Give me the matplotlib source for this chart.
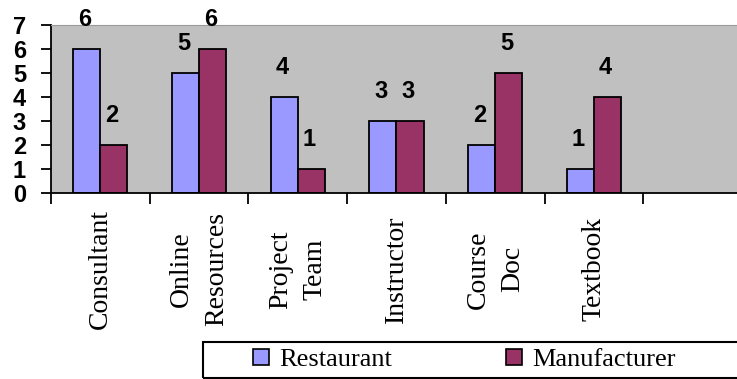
"""Restaurant vs manufacturer bar chart."""

import matplotlib

matplotlib.use("Agg")
import matplotlib.pyplot as plt
from matplotlib.patches import Patch, Rectangle
from matplotlib.ticker import FixedLocator
import numpy as np

categories = ["Consultant", "Online\nResources", "Project\nTeam", "Instructor", "Course\nDoc", "Textbook"]
restaurant = [6, 5, 4, 3, 2, 1]
manufacturer = [2, 6, 1, 3, 5, 4]
series_names = ["Restaurant", "Manufacturer"]
y_ticks = [0, 1, 2, 3, 4, 5, 6, 7]

BLUE = "#9999ff"
MAROON = "#993366"
GRAY = "#c0c0c0"
DIGIT_FONT = ["Liberation Sans Narrow", "Liberation Sans"]

fig = plt.figure(figsize=(7.37, 3.79), dpi=100)
ax = fig.add_axes([51 / 737, 186 / 379, 686 / 737, 168.5 / 379])
ax.set_facecolor(GRAY)

x = np.arange(len(categories))
width = 0.275
bars_r = ax.bar(x - width / 2, restaurant, width, color=BLUE, edgecolor="black", linewidth=1.3)
bars_m = ax.bar(x + width / 2, manufacturer, width, color=MAROON, edgecolor="black", linewidth=1.3)

for bars in (bars_r, bars_m):
    for bar in bars:
        ax.annotate(
            f"{bar.get_height():g}",
            (bar.get_x() + bar.get_width() / 2, bar.get_height()),
            xytext=(-2, 29),
            textcoords="offset pixels",
            ha="center",
            va="center",
            fontsize=17,
            fontweight="bold",
            family=DIGIT_FONT,
            annotation_clip=False,
        )

ax.set_ylim(0, 7)
ax.set_xlim(-0.5, 6.45)
ax.set_yticks(y_ticks)
ax.set_yticklabels([str(v) for v in y_ticks], fontsize=17, fontweight="bold", family=DIGIT_FONT)
ax.tick_params(axis="y", length=7, width=1.3, pad=11)

ax.set_xticks(x)
ax.set_xticklabels(categories, rotation=90, va="center", ha="center", fontsize=20,
                   family="Liberation Serif", multialignment="center", linespacing=1.5)
ax.tick_params(axis="x", which="major", length=0, pad=55)
ax.xaxis.set_minor_locator(FixedLocator(np.arange(-0.5, 7, 1.0)))
ax.tick_params(axis="x", which="minor", length=8, width=1.3)

ax.spines["right"].set_visible(False)
ax.spines["top"].set_color("#9a9a9a")
ax.spines["left"].set_linewidth(1.3)
ax.spines["bottom"].set_linewidth(1.3)

# legend box runs off the right edge like the source
fig.patches.append(Rectangle((203 / 737, 1 / 379), 0.8, 36 / 379, transform=fig.transFigure,
                             fill=False, edgecolor="black", linewidth=1.5))
handles = [Patch(facecolor=BLUE, edgecolor="black", linewidth=1.2),
           Patch(facecolor=MAROON, edgecolor="black", linewidth=1.2)]
fig.legend(handles, series_names, loc="center left", bbox_to_anchor=(253 / 737, 19 / 379),
           ncol=2, frameon=False, borderpad=0, borderaxespad=0, handlelength=0.6, handleheight=0.6,
           handletextpad=0.4, columnspacing=4.3, prop={"family": "Liberation Serif", "size": 19})

fig.savefig("out.png", dpi=100)
